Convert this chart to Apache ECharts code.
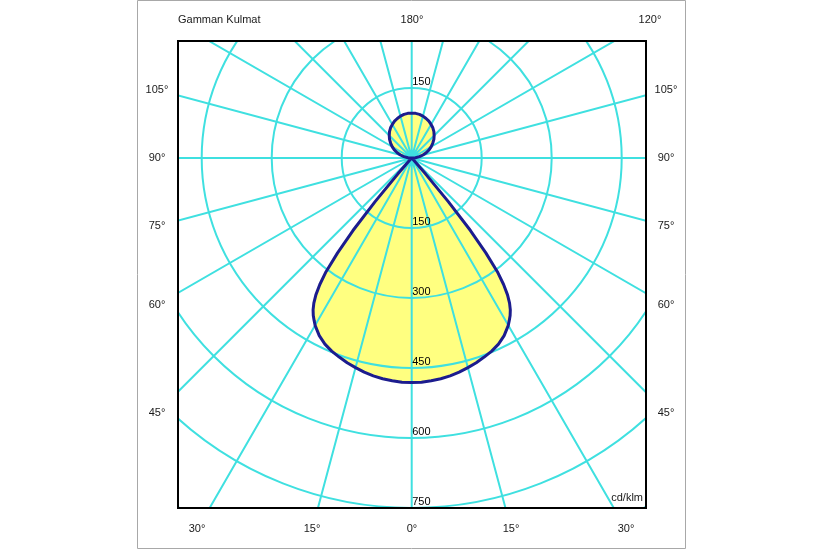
<!DOCTYPE html>
<html><head><meta charset="utf-8">
<script src="https://cdn.jsdelivr.net/npm/echarts@6/dist/echarts.min.js"></script>
<style>html,body{margin:0;padding:0;background:#fff}#c{width:825px;height:550px}</style>
</head><body><div id="c"></div>
<script>
// Gamma angles (degrees, 0 = straight down, 180 = straight up) and luminous intensity (cd/klm)
const gammaDeg = [0, 2.5, 5, 7.5, 10, 12.5, 15, 17.5, 20, 22.5, 25, 27.5, 30, 31, 32, 33, 34, 35, 36, 37, 38, 39, 40, 41, 42, 43, 60, 90,
                  95, 100, 105, 110, 115, 120, 125, 130, 135, 140, 145, 150, 155, 160, 165, 170, 175, 180];
const intensity = [481, 481, 479, 477, 474, 470, 465, 460, 454, 448, 440, 429, 414, 406, 398, 388, 375, 358, 335, 305, 258, 200, 122, 45, 6, 0, 0, 0,
                   8, 17, 25, 33, 41, 48, 55, 62, 68, 74, 79, 83, 87, 90, 93, 95, 96, 96];
const ringValues = [150, 300, 450, 600, 750];
const upperRingLabel = 150;
const leftAngleLabels = ['105°', '90°', '75°', '60°', '45°'];
const rightAngleLabels = ['105°', '90°', '75°', '60°', '45°'];
const bottomAngleLabels = ['30°', '15°', '0°', '15°', '30°'];
const titleText = 'Gamman Kulmat';
const topLabels = ['180°', '120°'];
const unitText = 'cd/klm';

const CYAN = '#3fe0e0';
const FONT = '11px "Liberation Sans", Arial, sans-serif';

// full closed curve: one half, then mirrored half
const curve = [];
for (let i = 0; i < gammaDeg.length; i++) curve.push([intensity[i], gammaDeg[i]]);
for (let i = gammaDeg.length - 1; i >= 0; i--) curve.push([intensity[i], 360 - gammaDeg[i]]);

const labelPts = ringValues.map(v => [v, 0]).concat([[upperRingLabel, 180]]);

const chart = echarts.init(document.getElementById('c'), null, {renderer: 'canvas'});

function txt(t, x, y, align) {
  return {type: 'text', z: 110, silent: true,
    style: {text: t, x: x, y: y, fill: '#1a1a1a', font: FONT,
      textAlign: align || 'center', align: align || 'center',
      textVerticalAlign: 'middle', verticalAlign: 'middle'}};
}
const leftY = [90, 158, 226, 305, 413];
const bottomX = [197, 312, 412, 511, 626];
const graphics = [
  {type: 'rect', z: 100, silent: true, shape: {x: 0, y: 0, width: 177, height: 550}, style: {fill: '#fff'}},
  {type: 'rect', z: 100, silent: true, shape: {x: 647, y: 0, width: 178, height: 550}, style: {fill: '#fff'}},
  {type: 'rect', z: 100, silent: true, shape: {x: 0, y: 0, width: 825, height: 40}, style: {fill: '#fff'}},
  {type: 'rect', z: 100, silent: true, shape: {x: 0, y: 509, width: 825, height: 41}, style: {fill: '#fff'}},
  {type: 'rect', z: 105, silent: true, shape: {x: 137.5, y: 0.5, width: 548, height: 548}, style: {fill: 'none', stroke: '#a8a8a8', lineWidth: 1}},
  {type: 'rect', z: 105, silent: true, shape: {x: 178, y: 41, width: 468, height: 467}, style: {fill: 'none', stroke: '#000', lineWidth: 2}},
  txt(titleText, 178, 20, 'left'),
  txt(topLabels[0], 412, 20),
  txt(topLabels[1], 650, 20),
  txt(unitText, 643, 498, 'right')
];
leftAngleLabels.forEach((t, i) => graphics.push(txt(t, 157, leftY[i])));
rightAngleLabels.forEach((t, i) => graphics.push(txt(t, 666, leftY[i])));
bottomAngleLabels.forEach((t, i) => graphics.push(txt(t, bottomX[i], 529)));

chart.setOption({
  animation: false,
  backgroundColor: '#fff',
  polar: {center: [411.7, 158], radius: 490},
  angleAxis: {
    type: 'value', min: 0, max: 360, interval: 15, startAngle: 270, clockwise: true, z: 3,
    axisLine: {show: false}, axisTick: {show: false}, axisLabel: {show: false},
    splitLine: {show: true, lineStyle: {color: CYAN, width: 2}}
  },
  radiusAxis: {
    type: 'value', min: 0, max: 1050, interval: 150, z: 3,
    axisLine: {show: false}, axisTick: {show: false}, axisLabel: {show: false},
    splitLine: {show: true, lineStyle: {color: CYAN, width: 2}}
  },
  series: [
    {type: 'line', coordinateSystem: 'polar', data: curve, symbol: 'none', silent: true, z: 1,
     lineStyle: {width: 0, opacity: 0}, areaStyle: {color: '#ffff80', opacity: 1}},
    {type: 'line', coordinateSystem: 'polar', data: curve, symbol: 'none', silent: true, z: 5,
     lineStyle: {color: '#1c1c8e', width: 3}},
    {type: 'scatter', coordinateSystem: 'polar', data: labelPts, symbolSize: 1, silent: true, z: 6,
     itemStyle: {color: 'rgba(255,255,255,0)'},
     label: {show: true, formatter: p => String(p.value[0]), position: [1, 0], align: 'left', verticalAlign: 'bottom',
       color: '#000', opacity: 1, textBorderWidth: 0, fontSize: 11, fontFamily: '"Liberation Sans", Arial, sans-serif'}}
  ],
  graphic: {elements: graphics}
});
</script>
</body></html>
